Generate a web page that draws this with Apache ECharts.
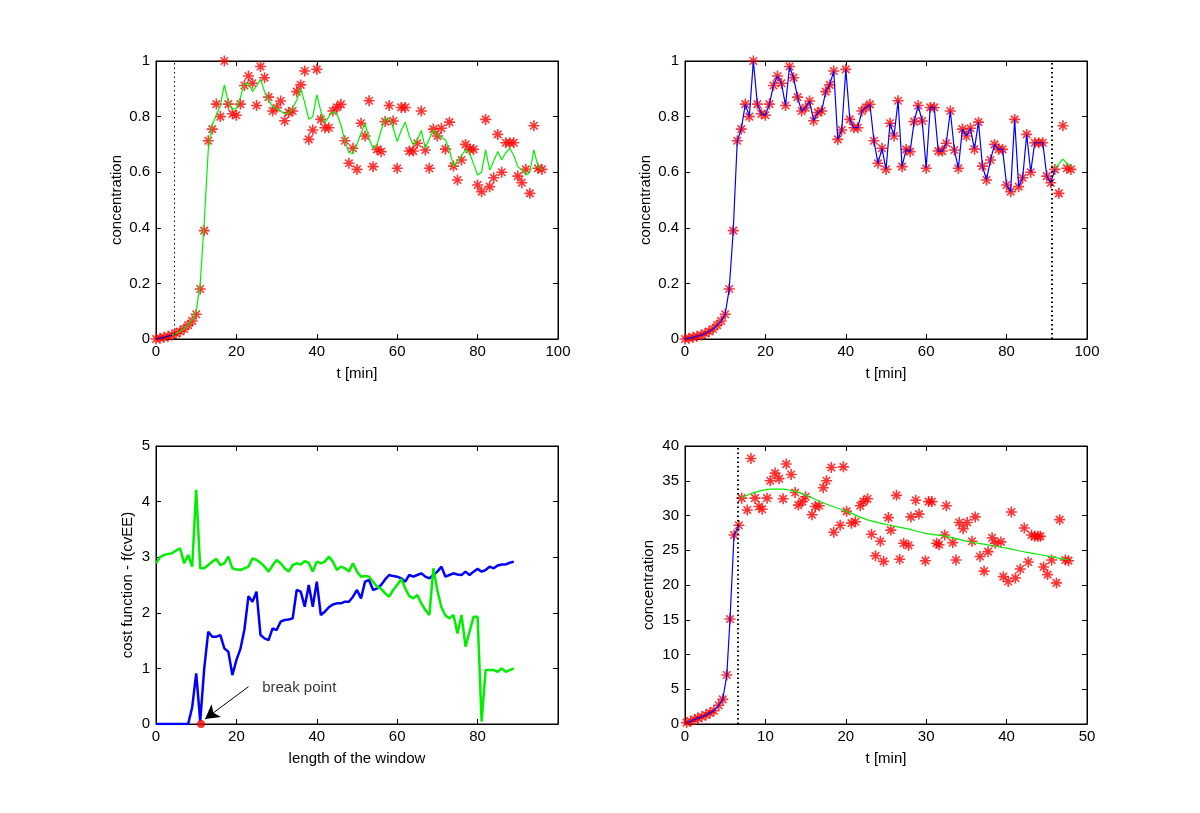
<!DOCTYPE html>
<html>
<head>
<meta charset="utf-8">
<script src="https://cdn.jsdelivr.net/npm/echarts@6/dist/echarts.min.js"></script>
<style>
html,body{margin:0;padding:0;background:#fff;}
#chart{width:1200px;height:813px;}
</style>
</head>
<body>
<div id="chart"></div>
<script>
// ---------- DATA ----------
// Top panels: measured concentration vs time
const tMin = [0,1,2,3,4,5,6,7,8,9,10,11,12,13,14,15,16,17,18,19,20,21,22,23,24,25,26,27,28,29,30,31,32,33,34,35,36,37,38,39,40,41,42,43,44,45,46,47,48,49,50,51,52,53,54,55,56,57,58,59,60,61,62,63,64,65,66,67,68,69,70,71,72,73,74,75,76,77,78,79,80,81,82,83,84,85,86,87,88,89,90,91,92,93,94,95,96];
const conc = [0.000,0.003,0.006,0.010,0.014,0.020,0.027,0.036,0.050,0.065,0.089,
  0.180,0.390,0.713,0.755,0.845,0.800,1.000,0.845,0.810,0.805,
  0.845,0.912,0.946,0.920,0.840,0.980,0.940,0.870,0.820,0.832,
  0.856,0.785,0.815,0.820,0.890,0.914,0.964,0.718,0.752,0.970,
  0.790,0.760,0.760,0.820,0.833,0.844,0.713,0.632,0.686,0.610,
  0.776,0.730,0.857,0.620,0.682,0.674,0.782,0.840,0.784,0.614,
  0.833,0.833,0.676,0.676,0.704,0.820,0.680,0.614,0.755,0.730,
  0.758,0.683,0.780,0.622,0.572,0.644,0.700,0.682,0.682,0.554,
  0.530,0.790,0.548,0.580,0.736,0.600,0.706,0.706,0.706,0.586,
  0.562,0.610,0.524,0.767,0.614,0.610];
// Top-left model fit (green)
const fitT = [4,5,6,7,8,9,10,11,12,13,14,15,16,17,18,19,20,21,22,23,24,25,26,27,28,29,30,31,32,33,34,35,36,37,38,39,40,41,42,43,44,45,46,47,48,49,50,51,52,53,54,55,56,57,58,59,60,61,62,63,64,65,66,67,68,69,70,71,72,73,74,75,76,77,78,79,80,81,82,83,84,85,86,87,88,89,90,91,92,93,94,95,96];
const fitC = [0.014,0.020,0.027,0.037,0.050,0.070,0.100,0.200,0.420,0.680,0.770,0.805,0.840,0.914,0.850,0.826,0.830,0.870,0.917,0.920,0.890,0.910,0.934,0.890,0.860,0.836,0.830,0.820,0.810,0.812,0.830,0.860,0.900,0.850,0.790,0.800,0.878,0.820,0.778,0.800,0.818,0.810,0.770,0.710,0.670,0.668,0.700,0.740,0.776,0.720,0.686,0.700,0.750,0.794,0.794,0.760,0.710,0.750,0.780,0.730,0.698,0.715,0.750,0.686,0.720,0.752,0.734,0.725,0.716,0.680,0.620,0.640,0.660,0.680,0.670,0.630,0.590,0.600,0.680,0.608,0.640,0.674,0.645,0.670,0.686,0.660,0.620,0.608,0.590,0.600,0.680,0.622,0.610];
const startCount = 5;          // first points before the left break line
const breakLeftTop = 4.5;
// Top-right: blue through t<=92, green tail afterwards
const endCount = 93;
const tailT = [92,93,94,95,96];
const tailC = [0.614,0.630,0.647,0.632,0.620];
const breakRightTop = 91.3;

// Bottom-left: cost functions vs window length
const winLen = [0,1,2,3,4,5,6,7,8,9,10,11,12,13,14,15,16,17,18,19,20,21,22,23,24,25,26,27,28,29,30,31,32,33,34,35,36,37,38,39,40,41,42,43,44,45,46,47,48,49,50,51,52,53,54,55,56,57,58,59,60,61,62,63,64,65,66,67,68,69,70,71,72,73,74,75,76,77,78,79,80,81,82,83,84,85,86,87,88,89];
const costBlue = [0,0,0,0,0,0,0,0,0,0.30,0.91,0.05,1.00,1.66,1.57,1.57,1.60,1.36,1.30,0.88,
  1.15,1.35,1.70,2.30,2.20,2.38,1.60,1.54,1.51,1.72,1.69,1.84,1.87,1.88,1.90,2.41,2.38,2.11,2.50,2.11,
  2.56,1.96,2.02,2.10,2.15,2.17,2.17,2.20,2.20,2.29,2.41,2.26,2.56,2.59,2.41,2.44,2.50,2.60,2.68,2.66,
  2.65,2.62,2.56,2.68,2.65,2.68,2.71,2.65,2.62,2.68,2.74,2.83,2.65,2.68,2.71,2.69,2.68,2.74,2.68,2.74,
  2.79,2.74,2.77,2.83,2.80,2.85,2.87,2.87,2.90,2.92];
const costGreen = [2.89,3.00,3.04,3.06,3.07,3.12,3.16,2.89,3.04,2.83,4.21,2.80,2.80,2.86,2.92,2.97,2.86,2.89,3.01,2.80,
  2.78,2.77,2.80,2.83,2.98,2.95,2.90,2.83,2.74,2.85,2.95,2.89,2.80,2.74,2.86,2.89,2.87,2.93,2.90,2.74,
  2.92,2.89,2.92,3.01,2.92,2.77,2.83,2.80,2.74,2.89,2.74,2.65,2.66,2.65,2.56,2.47,2.43,2.35,2.29,2.41,
  2.50,2.61,2.44,2.30,2.26,2.32,2.17,2.05,1.96,2.80,2.40,2.10,1.95,1.90,1.96,1.63,1.96,1.39,1.66,1.93,
  1.93,0.04,0.97,0.97,0.97,0.94,1.00,0.94,0.97,1.00];
const breakPoint = [11.2, 0];
const breakLabel = 'break point';
const breakLabelAt = [26.4, 0.65];
const arrowFrom = [23.0, 0.67];
const arrowTo = [12.2, 0.09];

// Bottom-right: second experiment
const t2 = [0.2,0.7,1.2,1.6,2.1,2.6,3.1,3.6,4.2,4.7,5.2,5.6,6.1,6.7,
  7.05,7.75,8.2,8.7,9.2,9.6,10.2,10.6,11.2,11.7,12.2,12.6,13.2,13.7,14.1,14.6,15.0,15.8,16.2,16.7,17.2,17.6,18.2,18.5,19.3,19.7,
  20.1,20.7,21.2,21.8,22.2,22.7,23.2,23.7,24.3,24.7,25.3,25.6,26.3,26.7,27.2,27.8,28.1,28.7,29.1,29.9,
  30.3,30.7,31.3,31.6,32.3,32.5,33.3,33.7,34.1,34.6,35.1,35.7,36.1,36.7,37.2,37.7,38.2,38.6,39.3,39.6,
  40.2,40.6,41.1,41.7,42.2,42.7,43.1,43.5,43.9,44.2,44.6,45.1,45.6,46.2,46.6,47.3,47.7];
const v2 = [0.2,0.4,0.65,0.85,1.05,1.3,1.6,1.9,2.7,3.55,7.05,15.1,27.2,28.6,
  32.5,30.8,38.2,32.5,31.3,30.9,32.5,35.0,36.1,35.3,32.4,37.4,35.9,33.3,31.5,32.0,32.7,30.1,31.3,31.4,34.0,35.0,36.9,27.6,28.6,37.0,
  30.6,28.9,29.1,31.4,32.0,32.4,27.3,24.2,26.3,23.4,29.7,27.9,32.9,23.7,26.0,25.7,29.8,32.2,30.2,23.5,
  32.0,32.0,26.0,25.8,27.2,31.4,26.1,23.6,29.0,28.1,29.0,26.3,29.8,24.1,22.0,24.8,26.8,26.0,26.2,21.2,
  20.5,30.5,21.0,22.3,28.2,23.3,27.2,27.0,27.0,27.0,22.6,21.5,23.6,20.3,29.4,23.6,23.5];
const riseCount2 = 14;
const fitT2 = [7.05,8.9,10.6,12.2,13.9,15.3,17.2,20.1,22.6,25.1,27.6,30.1,32.5,35.0,37.5,40.0,42.5,45.0,47.7];
const fitV2 = [32.6,33.4,33.8,33.8,33.4,32.8,31.8,30.6,29.4,28.7,28.1,27.4,27.0,26.3,25.8,25.3,24.7,24.2,23.6];
const break2 = 6.5;

// ---------- CHART ----------
const FONT = 'Liberation Sans, Arial, sans-serif';
const FS = 15;
const zip = (xs, ys) => xs.map((x, i) => [x, ys[i]]);
const STAR = 'path://M0,5L10,5M5,0L5,10M1.6,1.6L8.4,8.4M8.4,1.6L1.6,8.4';

const grids = [
  {left:156, top:61, width:402, height:278},
  {left:685, top:61, width:402, height:278},
  {left:156, top:446, width:402, height:278},
  {left:685, top:446, width:402, height:278}
].map(g => Object.assign({show:true, borderColor:'#000', borderWidth:1, backgroundColor:'#fff'}, g));

function mainX(gi, min, max, interval, name, fmt) {
  return {type:'value', gridIndex:gi, min, max, interval, name, nameLocation:'middle', nameGap:27,
    nameTextStyle:{fontSize:FS, color:'#000', fontFamily:FONT},
    axisLine:{show:true, onZero:false, lineStyle:{color:'#000', width:1}},
    axisTick:{show:true, inside:true, length:5, lineStyle:{color:'#000'}},
    axisLabel:{fontSize:FS, color:'#000', fontFamily:FONT, margin:5, formatter: fmt || (v => String(v))},
    splitLine:{show:false}};
}
function mainY(gi, min, max, interval, name, gap) {
  return {type:'value', gridIndex:gi, min, max, interval, name, nameLocation:'middle', nameGap:gap,
    nameTextStyle:{fontSize:FS, color:'#000', fontFamily:FONT},
    axisLine:{show:true, onZero:false, lineStyle:{color:'#000', width:1}},
    axisTick:{show:true, inside:true, length:5, lineStyle:{color:'#000'}},
    axisLabel:{fontSize:FS, color:'#000', fontFamily:FONT, margin:6, formatter: v => String(+v.toFixed(2))},
    splitLine:{show:false}};
}
function secX(gi, min, max, interval) {
  return {type:'value', gridIndex:gi, position:'top', min, max, interval,
    axisLine:{show:true, onZero:false, lineStyle:{color:'#000', width:1}},
    axisTick:{show:true, inside:true, length:5, lineStyle:{color:'#000'}},
    axisLabel:{show:false}, splitLine:{show:false}};
}
function secY(gi, min, max, interval) {
  return {type:'value', gridIndex:gi, position:'right', min, max, interval,
    axisLine:{show:true, onZero:false, lineStyle:{color:'#000', width:1}},
    axisTick:{show:true, inside:true, length:5, lineStyle:{color:'#000'}},
    axisLabel:{show:false}, splitLine:{show:false}};
}

const xAxes = [
  mainX(0, 0, 100, 20, 't [min]'),
  mainX(1, 0, 100, 20, 't [min]'),
  mainX(2, 0, 100, 20, 'length of the window', v => (v === 100 ? '' : String(v))),
  mainX(3, 0, 50, 10, 't [min]'),
  secX(0, 0, 100, 20), secX(1, 0, 100, 20), secX(2, 0, 100, 20), secX(3, 0, 50, 10)
];
const yAxes = [
  mainY(0, 0, 1, 0.2, 'concentration', 32),
  mainY(1, 0, 1, 0.2, 'concentration', 32),
  mainY(2, 0, 5, 1, 'cost function - f(cvEE)', 21),
  mainY(3, 0, 40, 5, 'concentration', 29),
  secY(0, 0, 1, 0.2), secY(1, 0, 1, 0.2), secY(2, 0, 5, 1), secY(3, 0, 40, 5)
];

function vline(x, width) {
  return {silent:true, symbol:'none', label:{show:false},
    lineStyle:{type:[1.5, 3], color:'#000', width:width},
    data:[{xAxis:x}]};
}
function line(gi, data, color, width, extra) {
  return Object.assign({type:'line', xAxisIndex:gi, yAxisIndex:gi, data, showSymbol:false, symbol:'none',
    lineStyle:{color, width}, itemStyle:{color}, animation:false}, extra || {});
}
function stars(gi, data) {
  return {type:'scatter', xAxisIndex:gi, yAxisIndex:gi, data, symbol:STAR, symbolSize:11,
    itemStyle:{color:'rgba(0,0,0,0)', borderColor:'#ff0000', borderWidth:1.6}, animation:false};
}

const concPts = zip(tMin, conc);
const series = [
  // top-left
  stars(0, concPts),
  line(0, concPts.slice(0, startCount), '#0000cc', 1.2),
  line(0, zip(fitT, fitC), '#00ee00', 1.2, {markLine: vline(breakLeftTop, 1)}),
  // top-right
  line(1, concPts.slice(0, endCount), '#0000ff', 1.2, {markLine: vline(breakRightTop, 2)}),
  line(1, zip(tailT, tailC), '#00ee00', 1.2),
  stars(1, concPts),
  // bottom-left
  line(2, zip(winLen, costBlue), '#0000ff', 2.5),
  line(2, zip(winLen, costGreen), '#00ee00', 2.5),
  {type:'scatter', xAxisIndex:2, yAxisIndex:2, data:[breakPoint], symbol:'circle', symbolSize:8,
    itemStyle:{color:'#ff0000'}, z:5, animation:false,
    markLine:{silent:true, symbol:['none','arrow'], symbolSize:[12,14], label:{show:false},
      lineStyle:{color:'#000', width:1, type:'solid'},
      data:[[{coord:arrowFrom}, {coord:arrowTo}]]}},
  {type:'scatter', xAxisIndex:2, yAxisIndex:2, data:[breakLabelAt], symbolSize:0, animation:false,
    label:{show:true, position:'right', distance:0, formatter:breakLabel, fontSize:FS, color:'#000', fontFamily:FONT}},
  // bottom-right
  line(3, zip(t2, v2).slice(0, riseCount2), '#0000ff', 1.2, {markLine: vline(break2, 2)}),
  line(3, zip(fitT2, fitV2), '#00ee00', 1.2, {smooth:0.3}),
  stars(3, zip(t2, v2))
];

const chart = echarts.init(document.getElementById('chart'), null, {renderer:'canvas'});
chart.setOption({
  backgroundColor:'#fff',
  animation:false,
  textStyle:{fontFamily:FONT},
  grid: grids,
  xAxis: xAxes,
  yAxis: yAxes,
  series: series
});
</script>
</body>
</html>
